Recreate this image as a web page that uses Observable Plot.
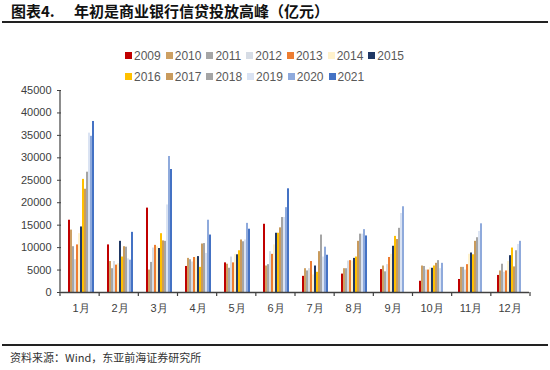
<!DOCTYPE html>
<html><head><meta charset="utf-8">
<script src="https://cdn.jsdelivr.net/npm/d3@7"></script>
<script src="https://cdn.jsdelivr.net/npm/@observablehq/plot@0.6"></script>
<style>
body{margin:0;width:550px;height:370px;position:relative;background:#fff;font-family:"Liberation Sans",Arial,sans-serif;overflow:hidden}
.title{position:absolute;top:1px;font:700 15px "Noto Sans CJK SC";color:#111;white-space:pre;line-height:20px}
#tline{position:absolute;left:2px;right:2px;top:21px;height:2px;background:#222}
#legend{position:absolute;left:125px;top:45px;font-size:12px;color:#595959}
.row{display:flex;height:21px;align-items:center}
.item{display:flex;align-items:center;margin-right:5px}
.sw{width:7px;height:7px;margin-right:2px}
#chart{position:absolute;left:0;top:85px}
#bline{position:absolute;left:2px;right:2px;top:344px;height:2px;background:#222}
#caption{position:absolute;left:10px;top:349px;font:11px "Noto Sans CJK SC";color:#333;line-height:16px}
</style></head>
<body>
<div class="title" style="left:11px">图表4.</div>
<div class="title" style="left:74px">年初是商业银行信贷投放高峰（亿元）</div>
<div id="tline"></div>
<div id="legend"></div>
<div id="chart"></div>
<div id="bline"></div>
<div id="caption">资料来源：Wind，东亚前海证券研究所</div>
<script>
const months = ["1月","2月","3月","4月","5月","6月","7月","8月","9月","10月","11月","12月"];
const years = ["2009","2010","2011","2012","2013","2014","2015","2016","2017","2018","2019","2020","2021"];
const colors = ["#C00000","#CDA063","#A6A6A6","#D6DCE5","#ED7D31","#FFF2CC","#203864","#FFC000","#C99B5D","#A5A5A5","#DAE3F3","#8FAADC","#4472C4"];
const yTicks = [0,5000,10000,15000,20000,25000,30000,35000,40000,45000];

const v2009 = [16100,10600,18800,5800,6600,15200,3600,4100,5100,2500,2900,3800];
const v2010 = [13900,6900,5000,7600,6300,5900,5300,5300,5900,5900,5600,4800];
const v2011 = [10200,5300,6700,7300,5400,6200,4800,5300,4600,5800,5600,6300];
const v2012 = [7300,6900,9900,6800,7900,9100,5300,7000,6200,5000,5000,4500];
const v2013 = [10600,6100,10500,7800,6600,8500,6900,7100,7800,5000,6200,4800];
const v2014 = [13100,6400,10200,7700,8500,10600,3900,7000,8500,5500,8500,6900];
const v2015 = [14600,11400,9800,8000,8400,13200,5900,7600,10300,5400,8800,8200];
const v2016 = [25200,7900,13100,5600,9300,13200,4500,7900,12500,5900,8400,9900];
const v2017 = [23000,10200,11500,10800,11700,14400,9100,11400,11800,6500,11400,5700];
const v2018 = [26800,10100,11400,10900,11300,16700,12800,13000,14300,7100,12200,9300];
const v2019 = [35500,7500,19500,8700,11700,16700,7900,13000,17600,5300,13600,10700];
const v2020 = [34800,7200,30300,16100,15400,18900,10100,14000,19100,6500,15300,11400];
const v2021 = [38100,13400,27400,12800,14100,23100,8300,12600,null,null,null,null];
const series = [v2009,v2010,v2011,v2012,v2013,v2014,v2015,v2016,v2017,v2018,v2019,v2020,v2021];

const data = [];
years.forEach((yr, i) => series[i].forEach((v, j) => { if (v != null) data.push({month: months[j], year: yr, value: v}); }));

// legend
const leg = document.getElementById("legend");
[years.slice(0,7), years.slice(7)].forEach(row => {
  const r = document.createElement("div"); r.className = "row";
  row.forEach(yr => {
    const it = document.createElement("div"); it.className = "item";
    const sw = document.createElement("div"); sw.className = "sw"; sw.style.background = colors[years.indexOf(yr)];
    const t = document.createElement("span"); t.textContent = yr;
    it.appendChild(sw); it.appendChild(t); r.appendChild(it);
  });
  leg.appendChild(r);
});

const chart = Plot.plot({
  width: 550, height: 235,
  marginLeft: 60, marginRight: 20, marginTop: 5, marginBottom: 28,
  style: {fontFamily: "Liberation Sans, Arial, sans-serif", fontSize: "11px", color: "#595959", background: "#fff"},
  fx: {domain: months, padding: 0, label: null},
  x: {domain: years, paddingInner: 0.25, paddingOuter: 0.5, axis: null},
  y: {domain: [0, 45000], label: null},
  color: {domain: years, range: colors},
  marks: [
    Plot.barY(data, {fx: "month", x: "year", y: "value", fill: "year"}),
    Plot.axisFx({anchor: "bottom", tickSize: 0, tickPadding: 12, label: null, fill: "#404040", fontSize: 11}),
    Plot.axisY({ticks: yTicks, tickFormat: d => String(d), tickSize: 4, tickPadding: 6, label: null, stroke: "#404040", fill: "#404040", fontSize: 11}),
    Plot.ruleY([0], {stroke: "#404040", strokeWidth: 1.5})
  ]
});
document.getElementById("chart").appendChild(chart);

// y-axis line and group separators derived from the chart's scales
const fxS = chart.scale("fx"), yS = chart.scale("y");
const band = d3.scaleBand().domain(fxS.domain).range(fxS.range).paddingInner(0).paddingOuter(0);
const y0 = yS.apply(0), yTop = yS.apply(45000);
const svg = d3.select(chart);
svg.append("line").attr("x1", fxS.range[0]).attr("x2", fxS.range[0]).attr("y1", yTop).attr("y2", y0)
  .attr("stroke", "#404040").attr("stroke-width", 1.2);
const bounds = months.map(m => band(m)).concat([fxS.range[1]]);
svg.append("g").selectAll("line").data(bounds).join("line")
  .attr("x1", d => d).attr("x2", d => d).attr("y1", y0).attr("y2", y0 + 4)
  .attr("stroke", "#404040").attr("stroke-width", 1.2);
</script>
</body></html>
